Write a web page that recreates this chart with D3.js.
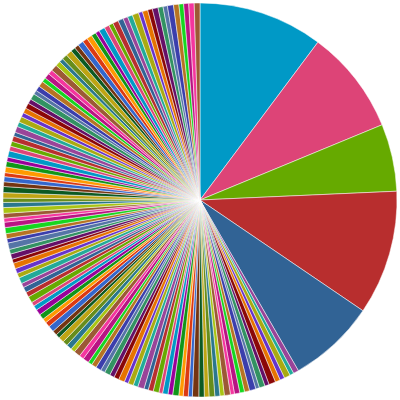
<!DOCTYPE html>
<html><head><meta charset="utf-8">
<script src="https://cdn.jsdelivr.net/npm/d3@7"></script>
<style>body{margin:0;background:#fff}</style></head>
<body><svg id="c" width="400" height="400"></svg>
<script>
const bigValues = [37, 31, 20, 37, 26];
const smallValues = [
1.6,1.2,1.8,1.4,1.5,2.0,1.3,1.7,1.1,1.9,1.5,1.4,1.6,1.2,1.8,1.3,1.5,1.7,1.4,1.6,
1.9,1.2,1.5,1.3,1.8,1.4,1.6,1.1,1.7,1.5,1.3,1.9,1.4,1.6,1.2,1.8,1.5,1.4,1.7,1.3,
1.6,1.5,1.2,1.8,1.4,1.9,1.3,1.6,1.5,1.7,1.2,1.4,1.8,1.5,1.3,1.6,1.7,1.4,1.2,1.9,
1.5,1.6,1.3,1.8,1.4,1.5,1.7,1.2,1.6,1.4,1.9,1.3,1.5,1.8,1.6,1.2,1.4,1.7,1.5,1.3,
1.6,1.8,1.4,1.5,1.2,1.7,1.6,1.3,1.9,1.4,1.5,1.6,1.2,1.8,1.4,1.7,1.3,1.5,1.6,1.4,
1.8,1.2,1.5,1.7,1.3,1.6,1.4,1.9,1.5,1.2,1.6,1.8,1.4,1.3,1.7,1.5,1.6,1.4,1.2,1.8,
1.5,1.3,1.7,1.6,1.4,1.5,1.9,1.2,1.6,1.4,1.7,1.5,1.3,1.8,1.6,1.4,1.5,1.6,1.7];
const values = bigValues.concat(smallValues);
const palette = ["#0099C6","#DD4477","#66AA00","#B82E2E","#316395","#994499","#22AA99","#AAAA11","#6633CC","#E67300","#8B0707","#651067","#329262","#5574A6","#3B3EAC","#B77322","#16D620","#B91383","#F4359E","#9C5935","#A9C413","#2A778D","#668D1C","#BEA413","#0C5922","#743411","#3366CC","#DC3912","#FF9900","#109618","#990099"];
const svg = d3.select("#c");
const g = svg.append("g").attr("transform","translate(200,200)");
const pie = d3.pie().sort(null).value(d=>d);
const arc = d3.arc().innerRadius(0).outerRadius(197);
const color = d3.scaleOrdinal().domain(d3.range(values.length)).range(palette);
g.selectAll("path").data(pie(values)).join("path")
 .attr("d",arc).attr("fill",(d,i)=>color(i))
 .attr("stroke","#fff").attr("stroke-width",0.5);
</script></body></html>
